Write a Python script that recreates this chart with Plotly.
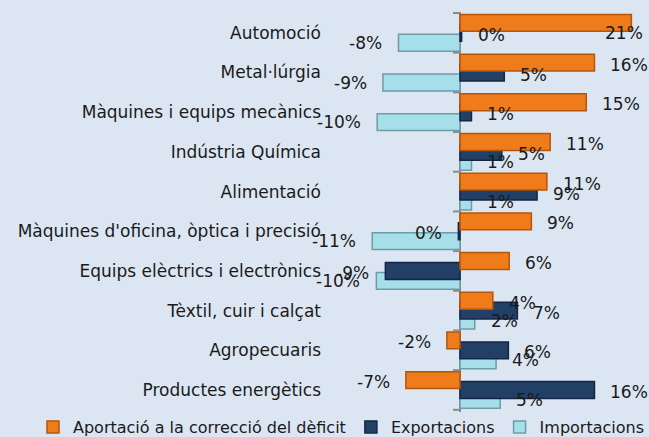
import plotly.graph_objects as go

categories = ["Automoció", "Metal·lúrgia", "Màquines i equips mecànics", "Indústria Química",
              "Alimentació", "Màquines d'oficina, òptica i precisió", "Equips elèctrics i electrònics",
              "Tèxtil, cuir i calçat", "Agropecuaris", "Productes energètics"]
aportacio = [20.9, 16.4, 15.4, 11.0, 10.6, 8.7, 6.0, 4.0, -1.6, -6.6]
exportacions = [0.2, 5.4, 1.4, 5.1, 9.4, -0.2, -9.1, 7.0, 5.9, 16.4]
importacions = [-7.5, -9.4, -10.1, 1.4, 1.4, -10.7, -10.2, 1.8, 4.4, 4.9]
series_names = ["Aportació a la correcció del dèficit", "Exportacions", "Importacions"]

BG = "#DCE6F2"
FONT = "DejaVu Sans"
XMIN, XMAX = -16.34, 22.56
PLOT_W = 319
PX_PER_UNIT = PLOT_W / (XMAX - XMIN)

styles = [
    dict(fill="#EF7B1A", line="#B5550A", offset=-0.4625, yshift=8, rank=1),
    dict(fill="#223F66", line="#142646", offset=-0.2125, yshift=-2, rank=2),
    dict(fill="#A6DFEA", line="#6E9CA6", offset=0.0375, yshift=-10, rank=3),
]
values = [aportacio, exportacions, importacions]

fig = go.Figure()
for i in [2, 1, 0]:
    s = styles[i]
    fig.add_trace(go.Bar(
        y=categories, x=values[i], orientation="h", name=series_names[i],
        width=0.425, offset=s["offset"], legendrank=s["rank"],
        marker=dict(color=s["fill"], line=dict(color=s["line"], width=1.5)),
        hoverinfo="skip",
    ))

LABEL_FONT = dict(size=17, color="#1a1a1a", family=FONT)
annotations = []
for i, vals in enumerate(values):
    s = styles[i]
    for cat, v in zip(categories, vals):
        txt = f"{int(round(v))}%"
        label_w = len(txt) * 12
        if v >= 0 and v * PX_PER_UNIT + 14 + label_w > XMAX * PX_PER_UNIT:
            annotations.append(dict(x=XMAX, y=cat, xref="x", yref="y", text=txt, showarrow=False,
                                    xanchor="right", yshift=0, font=LABEL_FONT))
        else:
            annotations.append(dict(x=v, y=cat, xref="x", yref="y", text=txt, showarrow=False,
                                    xanchor="left" if v >= 0 else "right",
                                    xshift=14 if v >= 0 else -14, yshift=s["yshift"],
                                    font=LABEL_FONT))

shapes = []
for k in range(len(categories) + 1):
    shapes.append(dict(type="line", xref="x", yref="y", xsizemode="pixel", xanchor=0,
                       x0=-7, x1=0, y0=k - 0.5, y1=k - 0.5,
                       line=dict(color="#8C8C8C", width=2)))

fig.update_layout(
    width=649, height=437,
    margin=dict(l=326, r=4, t=12, b=25, autoexpand=False),
    paper_bgcolor=BG, plot_bgcolor=BG,
    barmode="overlay",
    font=dict(family=FONT, size=16, color="#1a1a1a"),
    xaxis=dict(range=[XMIN, XMAX], showgrid=False, showticklabels=False, ticks="",
               zeroline=True, zerolinecolor="#8C8C8C", zerolinewidth=2, fixedrange=True),
    yaxis=dict(autorange="reversed", showgrid=False, showline=False, ticks="",
               tickfont=dict(size=17, family=FONT, color="#1a1a1a"), ticklabelstandoff=4,
               range=[9.5, -0.5], fixedrange=True),
    legend=dict(orientation="h", xref="paper", yref="paper", x=-0.9185, y=-0.0375,
                xanchor="left", yanchor="middle", font=dict(size=16, family=FONT, color="#1a1a1a"),
                bgcolor="rgba(0,0,0,0)", itemclick=False, traceorder="normal"),
    annotations=annotations,
    shapes=shapes,
    showlegend=True,
)

fig.write_html("out.html", config={"displayModeBar": False},
               post_script="document.body.style.margin='0';")
